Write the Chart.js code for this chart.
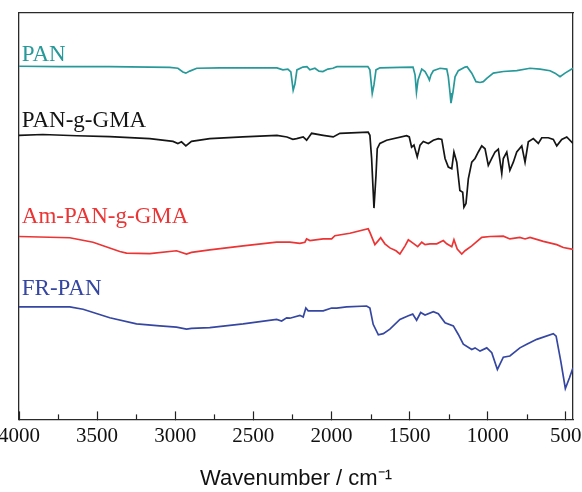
<!DOCTYPE html>
<html>
<head>
<meta charset="utf-8">
<script src="https://cdn.jsdelivr.net/npm/chart.js@4.4.1/dist/chart.umd.min.js"></script>
<style>
  body { margin: 0; background: #fff; }
  #wrap { width: 582px; height: 492px; position: relative; }
</style>
</head>
<body>
<div id="wrap"><canvas id="ftirChart"></canvas></div>
<script>
// FTIR spectra, offset transmittance (a.u.)
const seriesNames = ['PAN', 'PAN-g-GMA', 'Am-PAN-g-GMA', 'FR-PAN'];
const seriesColors = ['#27999a', '#151515', '#ec3434', '#3547a2'];

const panWn = [4000, 3739, 3419, 3163, 3035, 2983, 2951, 2932, 2907, 2862, 2714, 2567, 2349, 2311, 2279, 2260, 2245, 2234, 2221, 2183, 2157, 2138, 2106, 2080, 2055, 2023, 1991, 1965, 1882, 1767, 1754, 1739, 1728, 1715, 1690, 1562, 1478, 1465, 1456, 1446, 1422, 1401, 1382, 1373, 1363, 1348, 1305, 1262, 1252, 1241, 1235, 1222, 1209, 1188, 1145, 1132, 1102, 1075, 1049, 1028, 1006, 964, 900, 814, 729, 665, 601, 569, 537, 505, 454];
const panT = [86.9, 86.8, 86.8, 86.7, 86.6, 86.4, 85.5, 85.2, 85.7, 86.4, 86.5, 86.5, 86.5, 86.0, 86.2, 85.5, 81.0, 82.5, 86.0, 86.7, 86.8, 86.0, 86.4, 85.7, 85.6, 86.2, 86.4, 86.8, 86.8, 86.8, 86.0, 80.2, 82.3, 86.0, 86.5, 86.6, 86.7, 84.8, 80.5, 83.5, 86.2, 85.6, 84.3, 83.5, 84.8, 85.8, 86.4, 86.2, 84.3, 80.3, 77.8, 80.6, 84.3, 85.8, 86.7, 86.8, 85.2, 83.1, 82.9, 83.1, 83.9, 85.2, 85.6, 85.8, 86.4, 86.2, 85.8, 85.2, 84.3, 85.2, 86.4];

const graftWn = [4000, 3848, 3630, 3419, 3163, 3014, 2983, 2960, 2932, 2896, 2779, 2567, 2349, 2285, 2247, 2223, 2181, 2159, 2127, 2053, 1989, 1946, 1765, 1754, 1743, 1728, 1715, 1707, 1690, 1647, 1519, 1502, 1487, 1472, 1451, 1433, 1412, 1380, 1348, 1316, 1294, 1273, 1252, 1230, 1216, 1198, 1178, 1160, 1152, 1139, 1124, 1102, 1081, 1060, 1038, 1017, 996, 974, 953, 932, 910, 900, 878, 858, 836, 814, 782, 761, 740, 708, 676, 654, 612, 580, 558, 526, 494, 454];
const graftT = [69.9, 70.1, 69.8, 69.6, 69.1, 68.4, 67.9, 68.3, 67.3, 68.4, 69.1, 69.5, 69.9, 69.5, 68.9, 69.1, 69.5, 68.7, 70.4, 69.9, 69.5, 70.4, 70.7, 69.9, 64.2, 52.0, 60.0, 66.6, 67.9, 68.7, 69.8, 69.5, 67.0, 67.5, 64.6, 67.5, 68.4, 67.9, 68.7, 69.1, 68.9, 64.2, 62.1, 61.7, 65.8, 63.3, 56.3, 55.9, 52.2, 53.1, 59.2, 63.3, 64.2, 65.8, 67.3, 66.6, 62.5, 64.2, 65.8, 66.5, 60.5, 64.2, 65.8, 61.3, 63.3, 65.8, 67.3, 63.3, 68.3, 69.1, 67.9, 69.3, 69.3, 68.9, 67.3, 68.9, 69.5, 67.9];

const amWn = [4000, 3675, 3526, 3355, 3312, 3163, 2992, 2928, 2896, 2779, 2565, 2351, 2266, 2202, 2170, 2159, 2138, 2053, 1999, 1978, 1882, 1765, 1754, 1722, 1700, 1685, 1658, 1626, 1587, 1562, 1529, 1508, 1476, 1448, 1422, 1401, 1370, 1326, 1284, 1262, 1230, 1216, 1195, 1166, 1145, 1102, 1038, 985, 900, 858, 794, 761, 729, 644, 558, 516, 462, 454];
const amT = [45.0, 44.7, 43.6, 41.3, 40.9, 40.8, 41.5, 40.7, 41.1, 41.7, 42.7, 43.6, 43.6, 43.3, 43.6, 44.4, 44.0, 44.4, 44.4, 45.2, 45.8, 46.9, 46.0, 43.0, 44.0, 44.7, 43.2, 42.2, 41.5, 40.7, 42.7, 44.2, 43.3, 42.5, 43.6, 43.0, 43.2, 43.2, 44.0, 43.2, 42.5, 44.2, 41.9, 40.7, 41.5, 42.7, 44.8, 45.0, 45.1, 44.4, 44.8, 44.4, 44.8, 43.8, 43.0, 42.3, 41.9, 41.9];

const frWn = [4000, 3675, 3590, 3419, 3248, 3099, 2992, 2928, 2896, 2779, 2565, 2351, 2319, 2287, 2266, 2202, 2181, 2164, 2149, 2053, 1999, 1967, 1903, 1775, 1754, 1733, 1700, 1668, 1626, 1562, 1508, 1480, 1455, 1429, 1401, 1348, 1316, 1273, 1220, 1188, 1156, 1102, 1081, 1049, 1006, 974, 938, 900, 858, 794, 750, 686, 580, 562, 532, 503, 477, 454];
const frT = [27.7, 27.7, 27.1, 25.0, 23.5, 23.0, 22.7, 22.2, 22.4, 22.6, 23.5, 24.6, 24.2, 25.0, 24.9, 25.6, 25.2, 27.4, 26.7, 26.7, 27.4, 27.4, 27.7, 27.9, 27.4, 23.4, 20.8, 21.1, 22.2, 24.6, 25.5, 25.9, 24.4, 26.3, 25.7, 26.5, 26.0, 23.8, 23.0, 20.9, 18.5, 17.2, 17.6, 16.8, 17.6, 16.4, 12.3, 15.3, 15.6, 17.6, 18.5, 19.7, 21.1, 20.5, 14.3, 7.6, 10.2, 12.7];

const majorTicks = [4000, 3500, 3000, 2500, 2000, 1500, 1000, 500];
const minorTicks = [3750, 3250, 2750, 2250, 1750, 1250, 750];

const wnMax = 4000;
const wnMin = 454;

function toPoints(xs, ys) {
    return xs.map((x, i) => ({ x: x, y: ys[i] }));
}

const allWn = [panWn, graftWn, amWn, frWn];
const allT = [panT, graftT, amT, frT];

// where the curve names sit (wavenumber, a.u. baseline)
const nameSpots = [
    { wn: 3982, y: 88.3 },
    { wn: 3982, y: 71.9 },
    { wn: 3982, y: 48.4 },
    { wn: 3982, y: 30.6 }
];

// names of the curves, drawn inside the plot
const curveNames = {
    id: 'curveNames',
    afterDatasetsDraw(chart) {
        const ctx = chart.ctx;
        const xs = chart.scales.x, ys = chart.scales.y;
        ctx.save();
        ctx.font = '23px "Liberation Serif", "Times New Roman", serif';
        ctx.textAlign = 'left';
        ctx.textBaseline = 'alphabetic';
        seriesNames.forEach((name, i) => {
            ctx.fillStyle = seriesColors[i];
            ctx.fillText(name, xs.getPixelForValue(nameSpots[i].wn), ys.getPixelForValue(nameSpots[i].y));
        });
        ctx.restore();
    }
};

// short inward ticks between the labelled ones
const minorTickMarks = {
    id: 'minorTickMarks',
    afterDraw(chart) {
        const ctx = chart.ctx;
        const xs = chart.scales.x;
        const bottom = chart.chartArea.bottom;
        ctx.save();
        ctx.strokeStyle = '#222';
        ctx.lineWidth = 1.2;
        minorTicks.forEach(v => {
            const px = Math.round(xs.getPixelForValue(v)) + 0.5;
            ctx.beginPath();
            ctx.moveTo(px, bottom);
            ctx.lineTo(px, bottom - 5);
            ctx.stroke();
        });
        ctx.restore();
    }
};

const frameAxis = {
    ticks: { display: false },
    grid: { drawOnChartArea: false, drawTicks: false },
    border: { color: '#2a2a2a', width: 1.3 }
};

const ctx = document.getElementById('ftirChart').getContext('2d');

const chart = new Chart(ctx, {
    type: 'line',
    data: {
        datasets: seriesNames.map((name, i) => ({
            label: name,
            data: toPoints(allWn[i], allT[i]),
            borderColor: seriesColors[i],
            borderWidth: 1.7,
            pointRadius: 0,
            tension: 0,
            fill: false
        }))
    },
    options: {
        responsive: true,
        maintainAspectRatio: false,
        animation: false,
        layout: { padding: { left: 19, right: 9, top: 13, bottom: 0 } },
        plugins: {
            legend: { display: false },
            tooltip: { enabled: false }
        },
        scales: {
            x: {
                type: 'linear',
                position: 'bottom',
                reverse: true,
                min: wnMin,
                max: wnMax,
                afterBuildTicks: scale => { scale.ticks = majorTicks.map(v => ({ value: v })); },
                afterFit: scale => { scale.paddingLeft = 0; scale.paddingRight = 0; },
                ticks: {
                    autoSkip: false,
                    maxRotation: 0,
                    padding: 12,
                    color: '#111',
                    font: { family: '"Liberation Serif", "Times New Roman", serif', size: 21 },
                    callback: v => String(v)
                },
                grid: { drawOnChartArea: false, tickLength: -8, tickColor: '#222', tickWidth: 1.2 },
                border: { color: '#2a2a2a', width: 1.3 },
                title: {
                    display: true,
                    text: 'Wavenumber / cm\u207B\u00B9',
                    color: '#111',
                    font: { family: '"Liberation Sans", Arial, sans-serif', size: 22 },
                    padding: { top: 5, bottom: 0 }
                }
            },
            x2: Object.assign({ type: 'linear', position: 'top' }, frameAxis),
            y: Object.assign({ type: 'linear', position: 'left', min: 0, max: 100 }, frameAxis),
            y2: Object.assign({ type: 'linear', position: 'right', min: 0, max: 100 }, frameAxis)
        }
    },
    plugins: [curveNames, minorTickMarks]
});
</script>
</body>
</html>
